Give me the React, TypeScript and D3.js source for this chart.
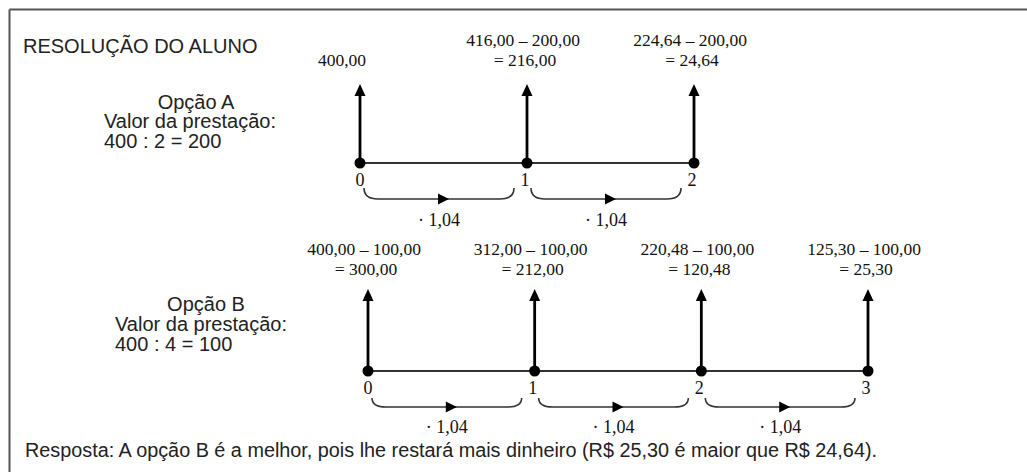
import React from "react";
import * as d3 from "d3";

const W = 1027;
const H = 472;

// Option A
const periodsA = [0, 1, 2];
const topLabelsA = [["", "400,00"], ["416,00 – 200,00", "= 216,00"], ["224,64 – 200,00", "= 24,64"]];
const infoA = ["Opção A", "Valor da prestação:", "400 : 2 = 200"];

// Option B
const periodsB = [0, 1, 2, 3];
const topLabelsB = [
  ["400,00 – 100,00", "= 300,00"],
  ["312,00 – 100,00", "= 212,00"],
  ["220,48 – 100,00", "= 120,48"],
  ["125,30 – 100,00", "= 25,30"],
];
const infoB = ["Opção B", "Valor da prestação:", "400 : 4 = 100"];

const factor = "· 1,04";
const title = "RESOLUÇÃO DO ALUNO";
const answer = "Resposta: A opção B é a melhor, pois lhe restará mais dinheiro (R$ 25,30 é maior que R$ 24,64).";

const SANS = "'Liberation Sans', Arial, sans-serif";
const SERIF = "'Liberation Serif', 'Times New Roman', serif";

type TLProps = {
  periods: number[];
  labels: string[][];
  x: d3.ScaleLinear<number, number>;
  y0: number;
  yTip: number;
  labelY: number;
  braceTop: number;
  braceBot: number;
  factorY: number;
};

function Timeline({ periods, labels, x, y0, yTip, labelY, braceTop, braceBot, factorY }: TLProps) {
  const segs = d3.pairs(periods);
  return (
    <g>
      <line x1={x(periods[0])} x2={x(periods[periods.length - 1])} y1={y0} y2={y0} stroke="#333" strokeWidth={2} />
      {periods.map((p) => (
        <g key={p}>
          <line x1={x(p)} x2={x(p)} y1={y0} y2={yTip + 10} stroke="#000" strokeWidth={2.8} />
          <path d={`M${x(p)},${yTip} L${x(p) - 5.5},${yTip + 12} L${x(p) + 5.5},${yTip + 12} Z`} fill="#000" />
          <circle cx={x(p)} cy={y0} r={5.5} fill="#000" />
          <text x={x(p) - (p === 0 ? 0 : 2)} y={y0 + 23} fontFamily={SERIF} fontSize={18} textAnchor="middle" fill="#111">
            {p}
          </text>
          <text x={x(p) - 4} y={labelY} fontFamily={SERIF} fontSize={17.5} textAnchor="middle" fill="#111">
            {labels[p][0]}
          </text>
          <text x={x(p) - (p === 0 && labels[p][0] === "" ? 18 : 2)} y={labelY + 20} fontFamily={SERIF} fontSize={17.5} textAnchor="middle" fill="#111">
            {labels[p][1]}
          </text>
        </g>
      ))}
      {segs.map(([a, b]) => {
        const xa = x(a) + 4;
        const xb = x(b) - 13;
        const mid = (xa + xb) / 2;
        const d = `M${xa},${braceTop} Q${xa},${braceBot} ${xa + 14},${braceBot} L${xb - 14},${braceBot} Q${xb},${braceBot} ${xb},${braceTop}`;
        return (
          <g key={a}>
            <path d={d} fill="none" stroke="#333" strokeWidth={1.6} />
            <path d={`M${mid + 10},${braceBot} L${mid - 1},${braceBot - 5.5} L${mid - 1},${braceBot + 5.5} Z`} fill="#000" />
            <text x={mid} y={factorY} fontFamily={SERIF} fontSize={18} textAnchor="middle" fill="#111">
              {factor}
            </text>
          </g>
        );
      })}
    </g>
  );
}

export default function App() {
  const xA = d3.scaleLinear().domain([0, 2]).range([360, 694]);
  const xB = d3.scaleLinear().domain([0, 3]).range([368, 868]);
  return (
    <svg width={W} height={H} style={{ position: "absolute", left: 0, top: 0, background: "#fff" }}>
      <rect x={0} y={0} width={W} height={H} fill="#fff" />
      <line x1={9.5} x2={W} y1={9.5} y2={9.5} stroke="#555" strokeWidth={2} />
      <line x1={9.5} x2={9.5} y1={9.5} y2={H} stroke="#555" strokeWidth={2} />

      <text x={23} y={53} fontFamily={SANS} fontSize={20} fill="#222">{title}</text>

      <text x={196} y={109} fontFamily={SANS} fontSize={20} textAnchor="middle" fill="#222">{infoA[0]}</text>
      <text x={104} y={128} fontFamily={SANS} fontSize={20} fill="#222">{infoA[1]}</text>
      <text x={104} y={148} fontFamily={SANS} fontSize={20} fill="#222">{infoA[2]}</text>

      <text x={206} y={311} fontFamily={SANS} fontSize={20} textAnchor="middle" fill="#222">{infoB[0]}</text>
      <text x={115} y={331} fontFamily={SANS} fontSize={20} fill="#222">{infoB[1]}</text>
      <text x={115} y={351} fontFamily={SANS} fontSize={20} fill="#222">{infoB[2]}</text>

      <Timeline periods={periodsA} labels={topLabelsA} x={xA} y0={163} yTip={84} labelY={46} braceTop={188} braceBot={199} factorY={226} />
      <Timeline periods={periodsB} labels={topLabelsB} x={xB} y0={371} yTip={289} labelY={255} braceTop={398} braceBot={407} factorY={433} />

      <text x={25} y={457} fontFamily={SANS} fontSize={20} fill="#222" textLength={852} lengthAdjust="spacingAndGlyphs">{answer}</text>
    </svg>
  );
}
